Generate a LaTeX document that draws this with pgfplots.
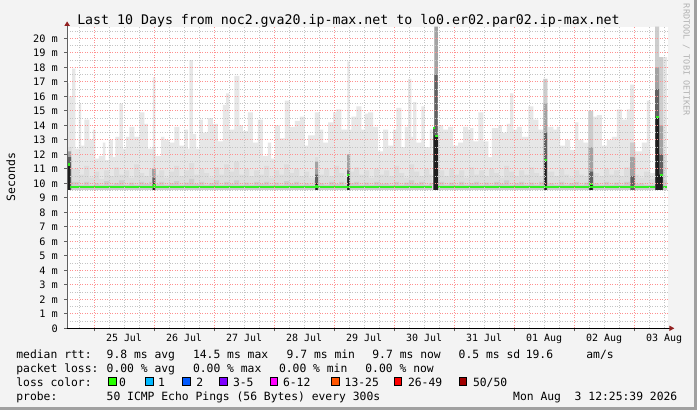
\documentclass[border=0pt]{standalone}
\usepackage{fontspec}
\setmainfont{DejaVu Sans Mono}
\usepackage{pgfplots}
\pgfplotsset{compat=1.18}

\definecolor{bgcol}{HTML}{F3F3F3}
\definecolor{framecol}{HTML}{A0A0A0}
\definecolor{majgrid}{HTML}{FF9090}
\definecolor{mingrid}{HTML}{C4C4C4}
\definecolor{axiscol}{HTML}{606060}
\definecolor{arrowcol}{HTML}{922020}
\definecolor{smokeA}{HTML}{E7E7E7}
\definecolor{smokeB}{HTML}{DDDDDD}
\definecolor{smokeC}{HTML}{CDCDCD}
\definecolor{smokeD}{HTML}{A2A2A2}
\definecolor{smokeE}{HTML}{606060}
\definecolor{smokeF}{HTML}{1E1E1E}
\definecolor{median}{HTML}{30F020}
\definecolor{lc0}{HTML}{26FF00}
\definecolor{lc1}{HTML}{00B8FF}
\definecolor{lc2}{HTML}{0059FF}
\definecolor{lc3}{HTML}{7E00FF}
\definecolor{lc4}{HTML}{FF00FF}
\definecolor{lc5}{HTML}{FF5500}
\definecolor{lc6}{HTML}{FF0000}
\definecolor{lc7}{HTML}{A10000}

\newcommand\legfont{\fontsize{11.4}{14}\selectfont}

\begin{document}
\begin{tikzpicture}[x=1bp,y=1bp]
\path[use as bounding box] (0,0) rectangle (697,410);
\fill[bgcol] (0,0) rectangle (697,410);
\fill[framecol] (694,0) rectangle (697,410);
\fill[framecol] (0,0) rectangle (697,2.7);

\begin{axis}[
  at={(67bp,81.7bp)}, anchor=south west,
  scale only axis, width=601bp, height=301.6bp,
  xmin=-10.8, xmax=229.6, ymin=0, ymax=20.8,
  axis on top,
  axis background/.style={fill=white},
  axis lines*=left,
  axis line style={draw=none},
  tick align=outside,
  major tick length=3bp, minor tick length=0pt,
  every tick/.style={draw=axiscol, line width=0.7bp},
  xtick={0,24,...,216}, xticklabels={},
  extra x ticks={12,36,...,228},
  extra x tick labels={25 Jul,26 Jul,27 Jul,28 Jul,29 Jul,30 Jul,31 Jul,01 Aug,02 Aug,03 Aug},
  extra x tick style={grid=none, major tick length=0pt},
  minor xtick={-6,6,12,18,30,36,42,54,60,66,78,84,90,102,108,114,126,132,138,150,156,162,174,180,186,198,204,210,222,228},
  ytick={0,1,...,20},
  yticklabels={0,1 m,2 m,3 m,4 m,5 m,6 m,7 m,8 m,9 m,10 m,11 m,12 m,13 m,14 m,15 m,16 m,17 m,18 m,19 m,20 m},
  minor ytick={0.5,1.5,...,20.5},
  grid=both,
  major grid style={draw=majgrid, line width=0.7bp, dash pattern=on 1bp off 1.5bp},
  minor grid style={draw=mingrid, line width=0.7bp, dash pattern=on 1bp off 1.5bp},
  xticklabel style={font=\fontsize{10}{12}\selectfont, anchor=base, inner sep=0pt, yshift=-13.4bp},
  yticklabel style={font=\fontsize{10.3}{12}\selectfont, anchor=east, inner sep=0pt, xshift=-6bp},
]

% outer smoke: highest pings
\addplot[draw=none, fill=smokeA, const plot] table {
h m
-10.8 16.9
-10.1 16.0
-8.8 17.9
-7.5 12.4
-6.1 15.5
-5.2 12.6
-3.9 14.4
-1.9 13.0
-0.5 13.7
0.5 11.7
1.9 11.9
3.5 12.8
4.5 11.6
5.9 13.0
7.5 11.8
8.5 13.2
10.1 15.5
11.5 12.4
12.8 13.2
14.1 13.9
16.1 13.2
18.1 14.9
20.1 14.1
21.5 12.4
23.5 17.3
24.5 11.9
26.8 13.2
28.1 13.0
30.1 12.8
32.1 13.9
34.1 12.6
36.1 13.7
37.5 12.4
38.1 18.5
39.5 13.4
40.8 12.4
42.1 14.4
43.5 13.5
45.5 14.5
47.5 14.1
49.5 12.9
51.5 15.4
52.8 16.2
54.1 13.7
56.1 17.4
58.1 14.0
59.5 13.6
61.5 14.9
63.5 12.8
65.5 14.4
67.5 11.9
69.5 12.8
70.8 11.7
72.3 14.0
74.3 13.1
76.3 15.7
78.3 13.9
80.3 14.3
82.3 14.6
84.3 12.6
85.6 13.3
88.3 14.9
90.3 13.7
91.6 12.8
93.6 14.2
95.6 14.9
96.9 15.1
98.9 13.7
101.3 18.4
102.2 13.7
102.9 14.6
104.9 15.3
106.9 13.7
108.3 14.8
109.6 14.9
111.6 13.9
113.6 12.2
115.6 13.7
117.6 12.6
119.6 13.7
120.9 15.2
122.9 12.5
124.3 13.9
125.6 17.2
126.9 13.2
127.6 15.6
128.9 12.8
130.9 15.3
132.3 12.5
134.3 13.7
135.3 0
135.7 13.8
136.1 20.8
137.6 14.0
139.6 13.7
141.6 13.9
143.6 12.6
145.6 12.8
147.6 13.9
149.6 13.7
150.4 13.8
151.7 12.9
153.7 14.9
155.7 12.9
157.7 11.8
159.1 13.8
161.7 14.0
163.1 13.5
165.1 14.1
166.4 16.2
167.7 13.7
169.1 13.9
171.1 13.2
173.7 15.3
175.7 14.4
177.7 13.7
179.7 17.2
181.3 13.9
183.7 13.7
185.1 13.9
186.4 12.6
188.4 13.0
190.4 12.3
192.4 14.2
193.7 13.0
195.7 12.8
197.7 15.0
199.6 14.6
201.1 14.7
203.1 12.6
205.1 13.0
207.1 13.2
209.1 15.1
211.1 14.4
213.1 15.1
214.4 16.8
216.0 12.2
219.1 12.8
221.1 15.7
222.4 10.7
224.4 20.8
226.0 18.7
229.2 0
229.6 0
} \closedcycle;

% middle smoke
\addplot[draw=none, fill=smokeB, const plot] table {
h m
-10.8 12.5
-9 11.0
-6 10.6
-4 11.2
-2 10.4
0 10.8
2 10.3
4 10.9
6 10.5
8 11.1
10 10.6
12 10.9
14 10.4
16 11.3
18 10.7
20 10.5
22 11.0
23.5 12.5
24.5 10.6
26 10.9
28 10.4
30 10.8
32 11.2
34 10.5
36 10.9
38 11.4
40 10.6
42 11.0
44 10.7
46 10.4
48 11.1
50 10.6
52 11.3
54 10.8
56 11.5
58 10.6
60 11.0
62 10.5
64 10.9
66 10.6
68 11.2
70 10.4
72 10.9
74 10.6
76 11.3
78 10.7
80 11.0
82 10.5
84 10.8
86 10.4
88.4 11.8
89.6 10.6
92 11.0
94 10.5
96 11.2
98 10.7
100 10.4
101.3 12.0
102.4 10.8
104 11.1
106 10.6
108 10.9
110 10.4
112 11.0
114 10.6
116 10.9
118 10.5
120 11.2
122 10.7
124 10.4
126 11.3
128 10.8
130 10.5
132 11.0
134 10.6
135.3 0
135.7 13.8
137.6 10.9
140 10.5
142 11.0
144 10.6
146 10.9
148 10.4
150 11.1
152 10.6
154 10.9
156 10.5
158 11.0
160 10.7
162 10.4
164 11.2
166 10.8
168 10.5
170 10.9
172 10.6
174 11.1
176 10.7
178 10.5
179.7 15.5
181.3 10.8
184 10.5
186 11.0
188 10.6
190 10.4
192 10.9
194 10.6
196 10.5
197.7 12.0
199.6 10.7
202 10.5
204 11.0
206 10.6
208 10.9
210 10.5
212 11.1
214.4 12.8
216.4 10.6
218 10.4
220 10.8
222.4 10.3
224.4 17.6
226 14.0
227.6 12.0
229.2 0
229.6 0
} \closedcycle;

% inner smoke, close to the median
\addplot[draw=none, fill=smokeC, const plot] table {
h m
-10.8 11.5
-9.2 10.1
-6 9.9
-4 10.1
-2 9.85
0 10.0
2 9.9
4 10.15
6 9.9
8 10.0
10 10.2
12 9.9
14 10.05
16 9.9
18 10.1
20 9.95
22 10.1
23.2 10.9
24.6 9.95
26 10.1
28 9.9
30 10.0
32 10.15
34 9.9
36 10.05
38 10.3
40 9.95
42 10.1
44 9.9
46 10.0
48 10.2
50 9.9
52 10.1
54 9.95
56 10.2
58 9.9
60 10.05
62 9.9
64 10.1
66 9.95
68 10.1
70 9.9
72 10.05
74 9.9
76 10.15
78 9.95
80 10.1
82 9.9
84 10.0
86 9.9
88 10.2
88.4 11.2
89.6 10.0
92 9.9
94 10.1
96 9.95
98 10.1
100 9.9
101.2 11.2
102.4 10.0
104 10.1
106 9.9
108 10.05
110 9.9
112 10.1
114 9.95
116 10.0
118 9.9
120 10.1
122 9.9
124 10.05
126 10.2
128 9.95
130 10.1
132 9.9
134 10.0
135.3 0
135.7 13.8
137.6 10.1
140 9.9
142 10.05
144 9.9
146 10.1
148 9.9
150 10.0
152 10.1
154 9.9
156 10.05
158 9.9
160 10.1
162 9.95
164 10.2
166 9.9
168 10.0
170 10.1
172 9.9
174 10.05
176 9.9
178 10.1
179.7 17.2
181.3 10.0
184 9.9
186 10.1
188 9.9
190 10.0
192 10.1
194 9.9
196 10.05
197.7 15.0
199.6 10.0
202 9.9
204 10.1
206 9.9
208 10.05
210 9.9
212 10.1
214.4 12.8
216.4 9.95
218 10.0
220 9.9
222.4 9.9
224.4 20.8
226 18.7
227.6 10.2
229.2 0
229.6 0
} \closedcycle;

% dense smoke at the latency spikes
\addplot[draw=none, fill=smokeD, const plot] table {
h m
-10.8 12.2
-9.2 0
23.2 11.0
24.6 0
88.4 11.5
89.6 0
101.2 12.0
102.4 0
136.1 20.8
137.5 0
179.8 15.5
181.2 0
197.8 12.5
199.6 0
214.4 11.8
216.4 0
224.4 18.0
226.0 14.0
227.6 0
229.6 0
} \closedcycle;

\addplot[draw=none, fill=smokeE, const plot] table {
h m
-10.8 11.8
-9.2 0
23.4 10.4
24.4 0
88.4 10.6
89.6 0
101.2 10.9
102.2 0
136.1 17.5
137.4 0
180.0 13.5
181.2 0
198.0 10.8
199.6 0
214.6 10.5
216.2 0
224.4 16.5
226.0 12.0
227.6 0
229.6 0
} \closedcycle;

\addplot[draw=none, fill=smokeF, const plot] table {
h m
-10.8 0
-10.6 11.3
-9.6 0
23.6 10.0
24.2 0
88.6 10.0
89.4 0
101.3 10.57
102.1 0
135.7 13.8
136.1 13.3
137.6 0
180.2 11.6
181.0 0
198.2 10.0
199.4 0
224.6 14.6
226.0 10.6
227.4 0
229.6 0
} \closedcycle;

% below the fastest ping nothing is drawn
\addplot[draw=none, fill=white] coordinates {(-10.8,9.55) (229.6,9.55)} \closedcycle;

% median rtt, loss 0 everywhere
\addplot[median, line width=2.2bp, line cap=butt, unbounded coords=jump] table {
h m
-9.6 9.72
135.3 9.72
135.3 nan
137.6 9.72
224.4 9.72
224.4 nan
227.5 9.72
229.0 9.72
229.0 nan
-10.6 11.3
-9.6 11.3
-9.6 nan
23.4 9.88
24.6 9.88
24.6 nan
88.4 9.82
89.6 9.82
89.6 nan
101.2 10.57
102.2 10.57
102.2 nan
135.7 13.8
136.3 13.8
136.3 nan
136.3 13.25
137.4 13.25
137.4 nan
180.0 11.6
181.2 11.6
181.2 nan
198.0 9.95
199.6 9.95
199.6 nan
224.6 14.6
226.0 14.6
226.0 nan
226.2 10.6
227.6 10.6
};
\end{axis}

% axis lines with their arrow heads
\draw[axiscol, line width=1bp] (67,81.7) -- (67,385);
\draw[black, line width=1bp] (66.5,81.7) -- (670,81.7);
\fill[arrowcol] (64.3,384) -- (70,384) -- (67.1,388.6) -- cycle;
\fill[arrowcol] (669.3,78.9) -- (669.3,84.5) -- (674.3,81.7) -- cycle;

% title, axis label, credit
\node[anchor=base, inner sep=0pt, font=\fontsize{13.3}{16}\selectfont] at (348.5,386)
  {Last 10 Days from noc2.gva20.ip-max.net to lo0.er02.par02.ip-max.net};
\node[rotate=90, anchor=base, inner sep=0pt, font=\fontsize{11.5}{14}\selectfont] at (15,233) {Seconds};
\node[rotate=-90, anchor=base, inner sep=0pt, text=black!30, font=\fontsize{8.5}{10}\selectfont] at (683.5,350) {RRDTOOL / TOBI OETIKER};

% legend lines
\begin{scope}[every node/.style={anchor=base west, inner sep=0pt, font=\legfont}]
\node at (16.2,51.7) {median rtt:};
\node at (106.5,51.7) {9.8 ms avg};
\node at (192.8,51.7) {14.5 ms max};
\node at (286.5,51.7) {9.7 ms min};
\node at (372.2,51.7) {9.7 ms now};
\node at (458.5,51.7) {0.5 ms sd};
\node at (525.6,51.7) {19.6};
\node at (586.2,51.7) {am/s};
\node at (16.2,37.7) {packet loss:};
\node at (106.5,37.7) {0.00 \% avg};
\node at (192.8,37.7) {0.00 \% max};
\node at (278.8,37.7) {0.00 \% min};
\node at (365.2,37.7) {0.00 \% now};
\node at (16.2,23.5) {loss color:};
\node at (118.8,23.5) {0};
\node at (157.8,23.5) {1};
\node at (196.2,23.5) {2};
\node at (232.8,23.5) {3-5};
\node at (282.8,23.5) {6-12};
\node at (344.5,23.5) {13-25};
\node at (407.8,23.5) {26-49};
\node at (472.8,23.5) {50/50};
\node at (16.2,9.3) {probe:};
\node at (106.5,9.3) {50 ICMP Echo Pings (56 Bytes) every 300s};
\node at (513,9.3) {Mon Aug\ \ 3 12:25:39 2026};
\end{scope}
\foreach \bx/\bc in {108.3/lc0,145.7/lc1,182.7/lc2,219.3/lc3,270/lc4,331.7/lc5,394/lc6,459/lc7}
  \filldraw[fill=\bc, draw=black, line width=0.8bp] (\bx,25) rectangle ++(7.7,7.7);
\end{tikzpicture}
\end{document}
